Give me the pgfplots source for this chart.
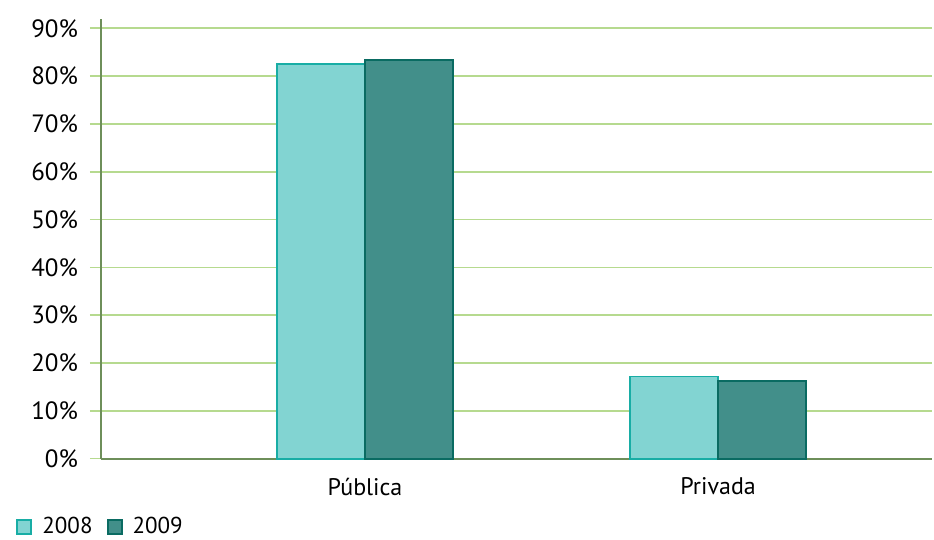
\documentclass[border=0pt]{standalone}
\usepackage{fontspec}
\setmainfont{PT Sans}
\usepackage{pgfplots}
\pgfplotsset{compat=1.18}
\definecolor{gridgreen}{HTML}{B6DA8F}
\definecolor{axisgreen}{HTML}{6E8F5A}
\definecolor{lightfill}{HTML}{82D4D2}
\definecolor{lightedge}{HTML}{18ADA5}
\definecolor{darkfill}{HTML}{428F8A}
\definecolor{darkedge}{HTML}{0A6B62}
\begin{document}
\begin{tikzpicture}
\path[use as bounding box] (-50.5pt,-40.6pt) rectangle (416.5pt,229.35pt);
\begin{axis}[
    at={(0pt,0pt)}, anchor=origin,
    scale only axis,
    width=415.5pt, height=220pt,
    ybar=0pt,
    bar width=0.249,
    xmin=0.252, xmax=2.606,
    ymin=0, ymax=92,
    xtick={1,2},
    xticklabels={Pública, Privada},
    extra x ticks={0.252},
    extra x tick labels={},
    extra x tick style={major tick length=5pt, tick style={axisgreen, line width=0.9pt}},
    ytick={0,10,...,90},
    yticklabel={\pgfmathprintnumber{\tick}\%},
    /pgf/number format/assume math mode=true,
    tick label style={font=\fontsize{12.5}{14}\selectfont, black},
    yticklabel style={xshift=-2.5pt},
    xticklabel style={font=\fontsize{12}{14}\selectfont, yshift=-0.5pt},
    axis lines*=left,
    axis line style={axisgreen, line width=0.9pt, -},
    tick align=outside,
    x tick style={draw=none},
    y tick style={gridgreen, line width=0.8pt},
    major tick length=5.5pt,
    ymajorgrids,
    grid style={gridgreen, line width=0.8pt},
    legend style={at={(-0.1095,-0.155)}, anchor=west, draw=none, fill=none,
        legend columns=2, font=\fontsize{11.5}{13}\selectfont,
        inner ysep=1pt,
        /tikz/every odd column/.append style={column sep=3pt},
        /tikz/every even column/.append style={column sep=5pt}},
    legend image code/.code={\draw[#1, line width=1pt] (0pt,-3.5pt) rectangle (7pt,3.5pt);},
    clip=false,
]
\addplot[fill=lightfill, draw=lightedge, line width=0.9pt] coordinates {(1,82.6) (2,17.2)};
\addplot[fill=darkfill, draw=darkedge, line width=0.9pt] coordinates {(1,83.4) (2,16.3)};
\legend{2008, 2009}
\end{axis}
\end{tikzpicture}
\end{document}
